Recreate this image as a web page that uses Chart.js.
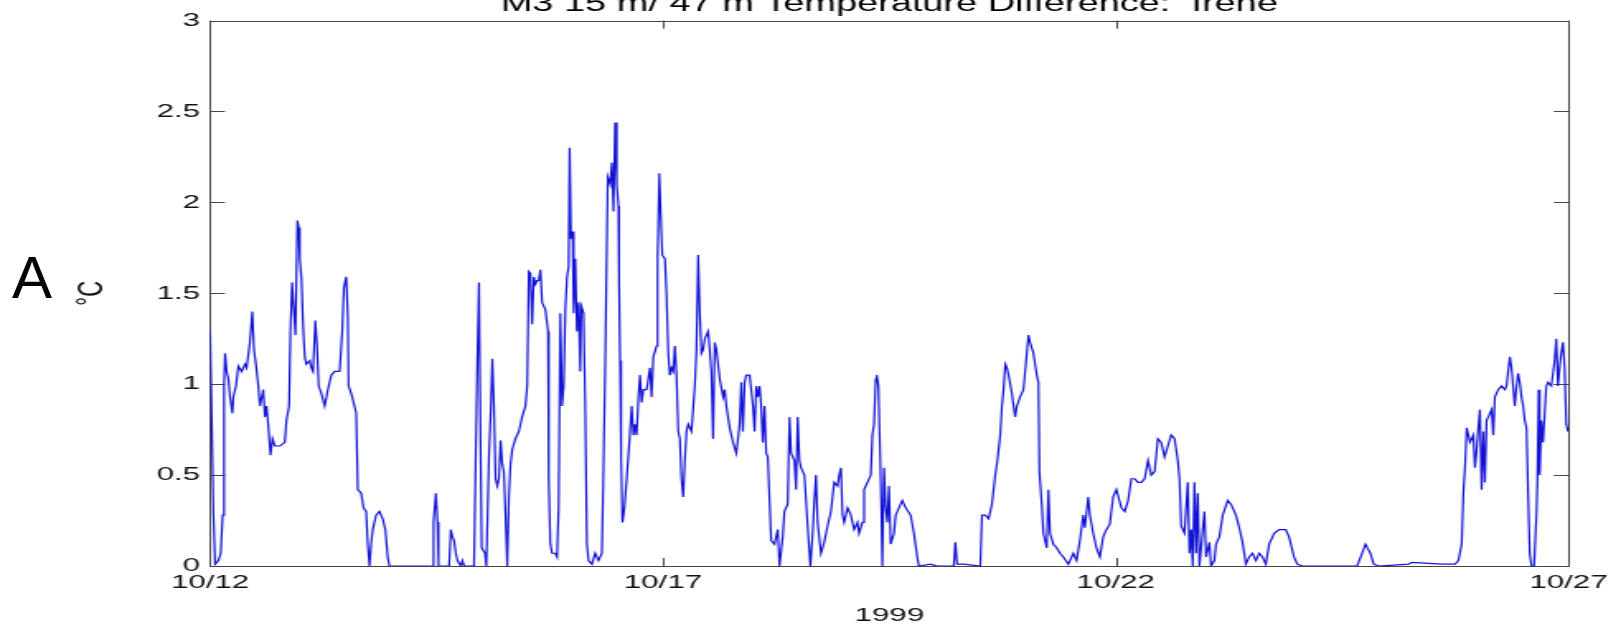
<!DOCTYPE html>
<html>
<head>
<meta charset="utf-8">
<title>M3 15 m/ 47 m Temperature Difference: Irene</title>
<script src="https://cdn.jsdelivr.net/npm/chart.js@4"></script>
<style>
  html, body { margin: 0; padding: 0; background: #fff; }
  #wrap { position: relative; width: 1616px; height: 625px; overflow: hidden; }
  /* the figure is drawn narrow and widened, like the exported plot */
  #plot { position: absolute; left: 0; top: 0; width: 980px; height: 625px;
          transform: scaleX(1.649); transform-origin: 0 0; }
  #panel { position: absolute; left: 12px; top: 248px; color: #000;
           font: 60px "Liberation Sans", Arial, sans-serif; line-height: 60px; }
</style>
</head>
<body>
<div id="wrap">
  <div id="plot"><canvas id="diffChart"></canvas></div>
  <div id="panel">A</div>
</div>
<script>
// days since 10/12 00:00 and the 15 m - 47 m temperature difference (deg C)
var dayOffsets = [
  0.000, 0.018, 0.037, 0.055, 0.092, 0.117, 0.139, 0.154, 0.165, 0.183, 0.202, 0.220, 0.246, 0.257, 0.286,
  0.312, 0.348, 0.385, 0.403, 0.440, 0.466, 0.484, 0.506, 0.532, 0.550, 0.587, 0.605, 0.623, 0.641, 0.667,
  0.689, 0.715, 0.770, 0.825, 0.843, 0.872, 0.887, 0.905, 0.924, 0.942, 0.964, 0.979, 0.990, 1.008, 1.026,
  1.045, 1.063, 1.100, 1.118, 1.136, 1.162, 1.180, 1.199, 1.228, 1.265, 1.301, 1.338, 1.375, 1.430, 1.459,
  1.477, 1.503, 1.521, 1.529, 1.558, 1.584, 1.613, 1.631, 1.668, 1.694, 1.723, 1.741, 1.760, 1.778, 1.796,
  1.833, 1.869, 1.906, 1.935, 1.961, 1.979, 2.456, 2.467, 2.493, 2.511, 2.522, 2.639, 2.658, 2.676, 2.694,
  2.713, 2.731, 2.768, 2.786, 2.804, 2.914, 2.933, 2.951, 2.969, 2.988, 2.999, 3.035, 3.050, 3.079, 3.101,
  3.116, 3.134, 3.152, 3.171, 3.189, 3.207, 3.226, 3.244, 3.262, 3.281, 3.299, 3.317, 3.336, 3.372, 3.409,
  3.446, 3.482, 3.501, 3.519, 3.537, 3.556, 3.574, 3.592, 3.611, 3.629, 3.647, 3.666, 3.702, 3.732, 3.739,
  3.757, 3.776, 3.812, 3.831, 3.849, 3.867, 3.886, 3.904, 3.922, 3.941, 3.959, 3.970, 3.985, 4.003, 4.014,
  4.032, 4.050, 4.069, 4.087, 4.098, 4.124, 4.142, 4.161, 4.179, 4.216, 4.252, 4.289, 4.326, 4.344, 4.362,
  4.391, 4.417, 4.436, 4.454, 4.472, 4.490, 4.509, 4.516, 4.527, 4.538, 4.553, 4.575, 4.600, 4.626, 4.655,
  4.674, 4.692, 4.710, 4.729, 4.747, 4.765, 4.784, 4.820, 4.857, 4.875, 4.894, 4.930, 4.941, 4.960, 4.978,
  4.993, 5.022, 5.040, 5.059, 5.077, 5.095, 5.114, 5.132, 5.150, 5.169, 5.187, 5.205, 5.224, 5.242, 5.260,
  5.279, 5.297, 5.315, 5.352, 5.370, 5.389, 5.407, 5.425, 5.444, 5.462, 5.499, 5.517, 5.535, 5.554, 5.572,
  5.590, 5.627, 5.664, 5.682, 5.700, 5.737, 5.774, 5.810, 5.847, 5.865, 5.883, 5.902, 5.920, 5.957, 5.994,
  6.012, 6.030, 6.048, 6.067, 6.085, 6.103, 6.122, 6.140, 6.158, 6.195, 6.232, 6.268, 6.287, 6.323, 6.341,
  6.378, 6.397, 6.415, 6.452, 6.470, 6.488, 6.507, 6.525, 6.562, 6.598, 6.628, 6.653, 6.672, 6.690, 6.708,
  6.745, 6.781, 6.818, 6.855, 6.891, 6.928, 6.946, 6.965, 6.983, 7.001, 7.038, 7.075, 7.111, 7.148, 7.166,
  7.203, 7.221, 7.240, 7.258, 7.295, 7.313, 7.331, 7.350, 7.361, 7.379, 7.397, 7.412, 7.423, 7.441, 7.460,
  7.478, 7.496, 7.515, 7.551, 7.570, 7.606, 7.643, 7.680, 7.735, 7.771, 7.808, 7.826, 7.955, 8.028, 8.211,
  8.229, 8.248, 8.321, 8.504, 8.523, 8.559, 8.596, 8.633, 8.669, 8.688, 8.724, 8.743, 8.761, 8.780, 8.798,
  8.816, 8.853, 8.871, 8.889, 8.908, 8.944, 8.981, 9.018, 9.036, 9.054, 9.091, 9.128, 9.146, 9.157, 9.183,
  9.201, 9.238, 9.256, 9.274, 9.311, 9.348, 9.384, 9.421, 9.476, 9.494, 9.531, 9.567, 9.604, 9.641, 9.659,
  9.696, 9.714, 9.751, 9.787, 9.824, 9.861, 9.897, 9.934, 9.971, 10.007, 10.062, 10.099, 10.136, 10.172, 10.209,
  10.245, 10.282, 10.319, 10.356, 10.392, 10.429, 10.465, 10.502, 10.539, 10.575, 10.612, 10.649, 10.685, 10.704, 10.722,
  10.759, 10.795, 10.814, 10.832, 10.850, 10.869, 10.887, 10.905, 10.924, 10.960, 10.979, 10.997, 11.034, 11.052, 11.089,
  11.107, 11.144, 11.181, 11.236, 11.272, 11.327, 11.364, 11.400, 11.437, 11.474, 11.510, 11.547, 11.584, 11.620, 11.657,
  11.694, 11.749, 11.804, 11.877, 11.913, 11.968, 12.005, 12.060, 12.665, 12.720, 12.757, 12.812, 12.848, 12.903, 13.234,
  13.270, 13.600, 13.747, 13.783, 13.820, 13.838, 13.856, 13.875, 13.911, 13.948, 13.966, 13.985, 14.003, 14.021, 14.040,
  14.058, 14.076, 14.094, 14.113, 14.150, 14.168, 14.186, 14.223, 14.260, 14.296, 14.315, 14.351, 14.370, 14.406, 14.425,
  14.443, 14.461, 14.480, 14.498, 14.516, 14.535, 14.553, 14.571, 14.590, 14.619, 14.645, 14.656, 14.670, 14.681, 14.699,
  14.718, 14.736, 14.754, 14.773, 14.809, 14.846, 14.864, 14.883, 14.901, 14.919, 14.938, 14.956, 14.974, 14.993
];
var tempDiff = [
  1.30, 0.80, 0.28, 0.01, 0.03, 0.07, 0.28, 0.99, 1.17, 1.07, 1.03, 0.93, 0.84, 0.93, 0.99,
  1.10, 1.07, 1.11, 1.09, 1.23, 1.40, 1.19, 1.11, 0.99, 0.88, 0.97, 0.82, 0.88, 0.78, 0.61,
  0.70, 0.66, 0.66, 0.68, 0.80, 0.88, 1.29, 1.56, 1.41, 1.27, 1.90, 1.86, 1.69, 1.59, 1.33,
  1.15, 1.11, 1.13, 1.09, 1.07, 1.35, 1.21, 0.99, 0.95, 0.88, 0.97, 1.05, 1.07, 1.07, 1.29,
  1.53, 1.59, 1.37, 0.99, 0.95, 0.90, 0.84, 0.42, 0.40, 0.32, 0.30, 0.12, 0.00, 0.12, 0.20,
  0.28, 0.30, 0.26, 0.20, 0.05, 0.00, 0.00, 0.24, 0.40, 0.24, 0.00, 0.00, 0.20, 0.16, 0.14,
  0.07, 0.03, 0.00, 0.03, 0.00, 0.00, 0.60, 1.12, 1.56, 0.58, 0.10, 0.07, 0.00, 0.60, 0.88,
  1.14, 0.88, 0.48, 0.44, 0.48, 0.69, 0.56, 0.52, 0.28, 0.00, 0.38, 0.56, 0.64, 0.70, 0.74,
  0.82, 0.88, 0.99, 1.62, 1.61, 1.33, 1.59, 1.55, 1.57, 1.57, 1.63, 1.45, 1.41, 1.29, 0.48,
  0.12, 0.07, 0.07, 0.05, 0.34, 1.39, 0.88, 0.99, 1.41, 1.59, 1.65, 2.30, 1.80, 1.84, 1.39,
  1.69, 1.29, 1.45, 1.07, 1.43, 1.39, 0.88, 0.12, 0.03, 0.01, 0.07, 0.03, 0.07, 0.54, 1.09,
  2.14, 2.10, 2.22, 1.95, 2.44, 2.10, 1.98, 1.55, 1.13, 0.60, 0.24, 0.32, 0.48, 0.66, 0.88,
  0.72, 0.78, 0.72, 0.93, 1.05, 0.90, 0.97, 0.97, 1.09, 0.93, 1.15, 1.21, 1.69, 2.16, 1.90,
  1.71, 1.69, 1.49, 1.17, 1.05, 1.09, 1.07, 1.21, 1.05, 0.74, 0.70, 0.48, 0.38, 0.58, 0.74,
  0.78, 0.76, 0.74, 0.99, 1.19, 1.71, 1.39, 1.17, 1.19, 1.25, 1.29, 1.19, 1.07, 0.70, 1.23,
  1.19, 1.03, 0.93, 0.97, 0.88, 0.76, 0.68, 0.62, 0.78, 1.01, 0.74, 1.01, 1.05, 1.05, 0.88,
  0.74, 0.99, 0.93, 0.99, 0.88, 0.68, 0.88, 0.62, 0.60, 0.14, 0.12, 0.20, 0.00, 0.16, 0.30,
  0.34, 0.82, 0.62, 0.58, 0.42, 0.82, 0.58, 0.54, 0.50, 0.22, 0.00, 0.18, 0.36, 0.50, 0.24,
  0.07, 0.13, 0.22, 0.30, 0.46, 0.44, 0.50, 0.54, 0.28, 0.24, 0.32, 0.28, 0.20, 0.24, 0.18,
  0.24, 0.42, 0.44, 0.46, 0.50, 0.72, 0.78, 1.03, 1.05, 0.99, 0.64, 0.32, 0.00, 0.54, 0.32,
  0.24, 0.44, 0.12, 0.18, 0.28, 0.32, 0.36, 0.32, 0.28, 0.18, 0.05, 0.00, 0.01, 0.00, 0.00,
  0.13, 0.01, 0.01, 0.00, 0.28, 0.28, 0.26, 0.34, 0.50, 0.56, 0.72, 0.88, 0.97, 1.11, 1.09,
  1.05, 0.95, 0.88, 0.82, 0.88, 0.93, 0.97, 1.17, 1.27, 1.23, 1.17, 1.05, 1.01, 0.52, 0.34,
  0.18, 0.10, 0.42, 0.18, 0.12, 0.10, 0.07, 0.05, 0.01, 0.03, 0.07, 0.03, 0.14, 0.28, 0.21,
  0.38, 0.28, 0.18, 0.10, 0.05, 0.16, 0.20, 0.23, 0.38, 0.42, 0.32, 0.30, 0.36, 0.48, 0.48,
  0.46, 0.46, 0.48, 0.58, 0.50, 0.52, 0.70, 0.68, 0.60, 0.66, 0.72, 0.70, 0.58, 0.48, 0.22,
  0.18, 0.46, 0.07, 0.20, 0.00, 0.46, 0.07, 0.40, 0.00, 0.20, 0.30, 0.05, 0.13, 0.00, 0.03,
  0.12, 0.16, 0.28, 0.36, 0.34, 0.28, 0.21, 0.13, 0.01, 0.05, 0.07, 0.03, 0.07, 0.05, 0.01,
  0.12, 0.18, 0.20, 0.20, 0.16, 0.05, 0.01, 0.00, 0.00, 0.07, 0.12, 0.07, 0.01, 0.00, 0.01,
  0.02, 0.01, 0.01, 0.03, 0.12, 0.40, 0.54, 0.76, 0.68, 0.72, 0.54, 0.64, 0.76, 0.86, 0.42,
  0.74, 0.46, 0.80, 0.82, 0.86, 0.72, 0.93, 0.97, 0.99, 0.97, 0.99, 1.15, 1.09, 0.88, 0.99,
  1.06, 1.01, 0.93, 0.88, 0.80, 0.76, 0.40, 0.07, 0.00, 0.00, 0.28, 0.48, 0.97, 0.50, 0.80,
  0.68, 0.84, 0.99, 1.01, 0.99, 1.13, 1.25, 0.99, 1.09, 1.17, 1.23, 1.09, 0.78, 0.74
];

var tickDays = [0, 5, 10, 15];
var dateLabels = ['10/12', '10/17', '10/22', '10/27'];
var yTicks = [0, 0.5, 1, 1.5, 2, 2.5, 3];
var yTickLabels = ['0', '0.5', '1', '1.5', '2', '2.5', '3'];

Chart.defaults.font.family = '"Liberation Sans", Arial, sans-serif';
Chart.defaults.color = '#111';

// box around the axes with short inward ticks on all four sides
var axesBox = {
  id: 'axesBox',
  beforeDatasetsDraw: function(chart) {
    var ctx = chart.ctx, a = chart.chartArea;
    var xs = chart.scales.x, ys = chart.scales.y;
    ctx.save();
    ctx.strokeStyle = '#444';
    ctx.lineWidth = 1;
    ctx.strokeRect(Math.round(a.left) + 0.5, Math.round(a.top) + 0.5,
                   Math.round(a.right - a.left), Math.round(a.bottom - a.top));
    ctx.beginPath();
    yTicks.forEach(function(v) {
      var py = Math.round(ys.getPixelForValue(v)) + 0.5;
      ctx.moveTo(a.left, py); ctx.lineTo(a.left + 9, py);
      ctx.moveTo(a.right, py); ctx.lineTo(a.right - 9, py);
    });
    tickDays.forEach(function(v) {
      var px = Math.round(xs.getPixelForValue(v)) + 0.5;
      ctx.moveTo(px, a.bottom); ctx.lineTo(px, a.bottom - 8);
      ctx.moveTo(px, a.top); ctx.lineTo(px, a.top + 8);
    });
    ctx.stroke();
    ctx.restore();
  }
};

var points = dayOffsets.map(function(d, i) { return {x: d, y: tempDiff[i]}; });

var ctx = document.getElementById('diffChart').getContext('2d');
var diffChart = new Chart(ctx, {
  type: 'line',
  data: {
    datasets: [{
      label: '15 m - 47 m',
      data: points,
      borderColor: '#1212d6',
      borderWidth: 1.2,
      pointRadius: 0,
      tension: 0,
      fill: false
    }]
  },
  options: {
    responsive: true,
    maintainAspectRatio: false,
    animation: false,
    layout: { padding: { left: 0, right: 25, top: 0, bottom: 0 } },
    plugins: {
      legend: { display: false },
      tooltip: { enabled: false },
      title: {
        display: true,
        fullSize: false,
        text: 'M3 15 m/ 47 m Temperature Difference:  Irene',
        color: '#000',
        font: { size: 23, weight: 'normal' },
        padding: { top: -9, bottom: 2 }
      }
    },
    scales: {
      x: {
        type: 'linear',
        min: 0,
        max: 15,
        grid: { display: false, drawTicks: false },
        border: { display: false },
        afterBuildTicks: function(scale) {
          scale.ticks = tickDays.map(function(v) { return {value: v}; });
        },
        afterFit: function(scale) { scale.height = 59; },
        ticks: {
          autoSkip: false,
          maxRotation: 0,
          padding: 5,
          font: { size: 19 },
          callback: function(v) { return dateLabels[tickDays.indexOf(v)]; }
        },
        title: {
          display: true,
          text: '1999',
          font: { size: 19 },
          padding: { top: 2, bottom: -2 }
        }
      },
      y: {
        min: 0,
        max: 3,
        grid: { display: false, drawTicks: false },
        border: { display: false },
        afterBuildTicks: function(scale) {
          scale.ticks = yTicks.map(function(v) { return {value: v}; });
        },
        afterFit: function(scale) { scale.width = 127.4; },
        ticks: {
          padding: 6,
          font: { size: 19 },
          callback: function(v) { return yTickLabels[yTicks.indexOf(v)]; }
        },
        title: {
          display: true,
          text: '°C',
          font: { size: 22 },
          padding: { top: 43, bottom: 0 }
        }
      }
    }
  },
  plugins: [axesBox]
});
</script>
</body>
</html>
